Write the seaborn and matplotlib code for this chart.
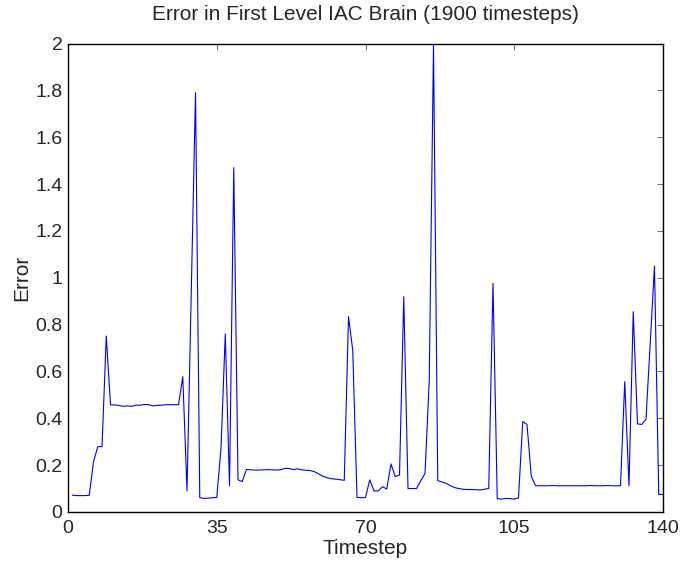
import numpy as np
import pandas as pd
import matplotlib
matplotlib.use('Agg')
import matplotlib.pyplot as plt
import seaborn as sns

# Ошибка на каждом шаге
timestep = list(range(1, 141))
error = [
    0.072, 0.070, 0.070, 0.070, 0.071, 0.215, 0.279, 0.279, 0.751, 0.457,
    0.457, 0.455, 0.451, 0.453, 0.451, 0.456, 0.456, 0.459, 0.458, 0.453,
    0.455, 0.456, 0.458, 0.458, 0.458, 0.458, 0.578, 0.090, 0.940, 1.790,
    0.061, 0.058, 0.059, 0.061, 0.062, 0.272, 0.760, 0.112, 1.470, 0.137,
    0.130, 0.182, 0.180, 0.179, 0.179, 0.180, 0.181, 0.180, 0.179, 0.180,
    0.186, 0.186, 0.181, 0.184, 0.180, 0.178, 0.177, 0.172, 0.162, 0.152,
    0.146, 0.142, 0.140, 0.138, 0.135, 0.834, 0.690, 0.062, 0.061, 0.062,
    0.137, 0.090, 0.090, 0.108, 0.098, 0.205, 0.151, 0.158, 0.919, 0.100,
    0.100, 0.100, 0.133, 0.165, 0.563, 1.994, 0.134, 0.128, 0.122, 0.112,
    0.104, 0.100, 0.097, 0.096, 0.096, 0.095, 0.094, 0.097, 0.101, 0.976,
    0.057, 0.055, 0.058, 0.057, 0.055, 0.060, 0.386, 0.374, 0.154, 0.112,
    0.112, 0.112, 0.112, 0.113, 0.112, 0.112, 0.112, 0.112, 0.112, 0.112,
    0.112, 0.112, 0.113, 0.112, 0.112, 0.112, 0.113, 0.112, 0.112, 0.112,
    0.556, 0.112, 0.855, 0.376, 0.374, 0.396, 0.720, 1.050, 0.075, 0.075,
]
x_ticks = [0, 35, 70, 105, 140]
y_ticks = [0, 0.2, 0.4, 0.6, 0.8, 1, 1.2, 1.4, 1.6, 1.8, 2]
y_labels = ['0', '0.2', '0.4', '0.6', '0.8', '1', '1.2', '1.4', '1.6', '1.8', '2']

df = pd.DataFrame({'Timestep': timestep, 'Error': error})

sns.set_style('white')
plt.rcParams['font.family'] = ['Liberation Sans', 'DejaVu Sans']

fig = plt.figure(figsize=(6.83, 5.63), dpi=100)
ax = fig.add_axes([0.0996, 0.0906, 0.8711, 0.8321])

sns.lineplot(data=df, x='Timestep', y='Error', ax=ax, color='#0000ff', linewidth=0.8)

ax.set_xlim(0, 140)
ax.set_ylim(0, 2)
ax.set_xticks(x_ticks)
ax.set_yticks(y_ticks)
ax.set_yticklabels(y_labels)
ax.tick_params(direction='in', length=4, width=0.5, labelsize=14, top=True, right=True,
               color='#333333')
ax.tick_params(axis='x', pad=6)
ax.tick_params(axis='y', pad=4)
for s in ax.spines.values():
    s.set_linewidth(1.0)
    s.set_color('black')

ax.set_title('Error in First Level IAC Brain (1900 timesteps)', fontsize=15, pad=17)
ax.set_xlabel('Timestep', fontsize=15, labelpad=1)
ax.set_ylabel('Error', fontsize=15, labelpad=3)

plt.savefig('out.png', dpi=100)
